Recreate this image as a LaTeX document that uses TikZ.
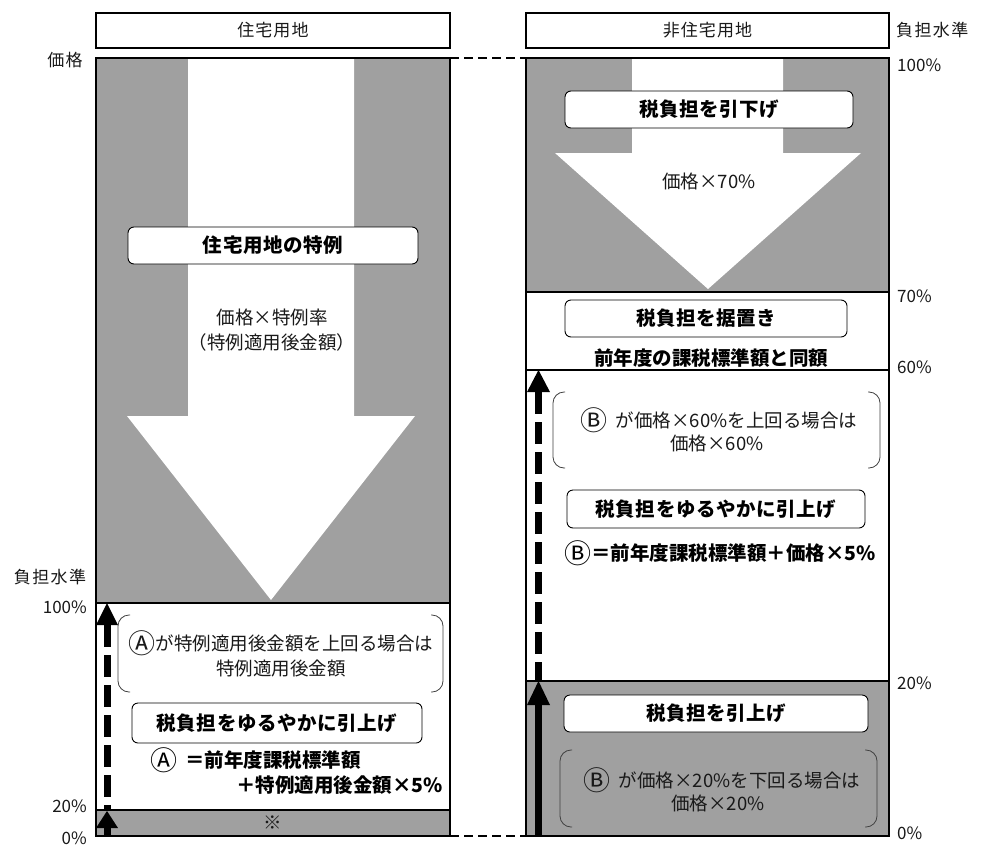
\documentclass[tikz,border=0pt]{standalone}
\usepackage{fontspec}
\setmainfont{Noto Sans CJK JP}
\newcommand\cA{\raisebox{-2.5pt}{\fontsize{27}{20}\selectfont\mdseries Ⓐ}}
\newcommand\cB{\raisebox{-2.5pt}{\fontsize{27}{20}\selectfont\mdseries Ⓑ}}
\definecolor{fillgray}{RGB}{160,160,160}
\definecolor{txtgray}{RGB}{25,25,25}
\begin{document}
\begin{tikzpicture}[x=1pt,y=-1pt,
  hdrbox/.style={draw, line width=1.5pt, fill=white, inner sep=0pt, text=txtgray, font=\fontsize{17}{18}\selectfont\addfontfeature{LetterSpace=6}},
  lblbox/.style={draw, line width=0.9pt, fill=white, rounded corners=6pt, inner sep=0pt, font=\bfseries\fontsize{19.5}{22}\selectfont\addfontfeature{LetterSpace=3}},
  thin/.style={inner sep=0pt, text=txtgray, font=\fontsize{18.5}{20}\selectfont},
  boldtxt/.style={inner sep=0pt, font=\bfseries\fontsize{19.5}{22}\selectfont},
  axis/.style={inner sep=0pt, text=txtgray, font=\fontsize{17}{18}\selectfont},
  axisj/.style={inner sep=0pt, text=txtgray, font=\fontsize{17}{18}\selectfont\addfontfeature{LetterSpace=8}},
  brk/.style={draw=black!75, line width=0.8pt, rounded corners=11pt},
  frame/.style={draw, line width=2.5pt},
  sep/.style={draw, line width=2.5pt},
  conn/.style={draw, line width=2pt, dash pattern=on 9pt off 5pt},
  shaft/.style={draw, line width=7pt},
  dshaft/.style={draw, line width=7pt, dash pattern=on 22pt off 8pt},
]
\useasboundingbox (0,0) rectangle (990,846);

% ---------------- backgrounds ----------------
% left column
\fill[fillgray] (96,58) rectangle (450,603);
\fill[white] (96,603) rectangle (450,810);
\fill[fillgray] (96,810) rectangle (450,836);
\fill[white] (188,56) -- (354,56) -- (354,416) -- (415,416) -- (271,600) -- (127,416) -- (188,416) -- cycle;
% right column
\fill[fillgray] (526,58) rectangle (889,292);
\fill[white] (526,292) rectangle (889,681);
\fill[fillgray] (526,681) rectangle (889,836);
\fill[white] (632,56) -- (783,56) -- (783,153) -- (861,153) -- (708,289) -- (555,153) -- (632,153) -- cycle;

% separators
\draw[sep] (96,603) -- (450,603);
\draw[sep] (96,810) -- (450,810);
\draw[sep] (526,292) -- (889,292);
\draw[line width=1.5pt] (526,370) -- (889,370);
\draw[sep] (526,681) -- (889,681);

% frames
\node[draw=none, inner sep=0pt, minimum width=354pt, minimum height=778pt] (colL) at (273,447) {};
\node[draw=none, inner sep=0pt, minimum width=363pt, minimum height=778pt] (colR) at (707.5,447) {};
\draw[frame] (colL.north west) rectangle (colL.south east);
\draw[frame] (colR.north west) rectangle (colR.south east);
\draw[conn] (colL.north east) -- (colR.north west);
\draw[conn] (colL.south east) -- (colR.south west);

% headers
\node[hdrbox, minimum width=354pt, minimum height=35pt] (hL) at (273,30.5) {住宅用地};
\node[hdrbox, minimum width=363pt, minimum height=35pt] (hR) at (707.5,30.5) {非住宅用地};

% ---------------- left column content ----------------
\node[lblbox, minimum width=290pt, minimum height=37pt] (l1) at (273,245.5) {住宅用地の特例};
\node[thin] (l1a) at (272,317) {価格×特例率};
\node[thin] (l1b) at (272,342) {（特例適用後金額）};

\draw[brk] (130,615) -- (118,615) -- (118,692) -- (130,692);
\draw[brk] (431,615) -- (443,615) -- (443,692) -- (431,692);
\node[thin] (lb1) at (281,643) {\cA が特例適用後金額を上回る場合は};
\node[thin] (lb2) at (281,668) {特例適用後金額};

\node[lblbox, minimum width=290pt, minimum height=40pt] (l2) at (277,723) {税負担をゆるやかに引上げ};
\node[boldtxt, anchor=west] (lf1) at (150,760) {\cA\hspace{8pt}＝前年度課税標準額};
\node[boldtxt, anchor=east] (lf2) at (443,785) {＋特例適用後金額×5\%};
\node[thin] (kome) at (273,823) {※};

% ---------------- right column content ----------------
\node[lblbox, minimum width=288pt, minimum height=37pt] (r1) at (709,109.5) {税負担を引下げ};
\node[thin] (r1a) at (709,181) {価格×70\%};

\node[lblbox, minimum width=282pt, minimum height=37pt] (r2) at (706,318.5) {税負担を据置き};
\node[boldtxt] (r2a) at (711,358) {前年度の課税標準額と同額};

\draw[brk] (565,392) -- (553,392) -- (553,468) -- (565,468);
\draw[brk] (868,392) -- (880,392) -- (880,468) -- (868,468);
\node[thin] (rb1) at (719,420) {\cB\hspace{8pt}が価格×60\%を上回る場合は};
\node[thin] (rb2) at (717,443) {価格×60\%};

\node[lblbox, minimum width=298pt, minimum height=38pt] (r3) at (716,509) {税負担をゆるやかに引上げ};
\node[boldtxt] (r3a) at (720,553) {\cB＝前年度課税標準額＋価格×5\%};

\node[lblbox, minimum width=304pt, minimum height=37pt] (r4) at (716,713.5) {税負担を引上げ};
\draw[brk] (572,750) -- (560,750) -- (560,827) -- (572,827);
\draw[brk] (865,750) -- (877,750) -- (877,827) -- (865,827);
\node[thin] (rc1) at (722,780) {\cB\hspace{8pt}が価格×20\%を下回る場合は};
\node[thin] (rc2) at (718,803) {価格×20\%};

% ---------------- axis labels ----------------
\node[axisj] (price) at (65,60) {価格};
\node[axisj] (lvlL) at (50,577) {負担水準};
\node[axis, anchor=east] (p100L) at (87,607) {100\%};
\node[axis, anchor=east] (p20L) at (87,806) {20\%};
\node[axis, anchor=east] (p0L) at (87,838) {0\%};

\node[axisj, anchor=west] (lvlR) at (896,30) {負担水準};
\node[axis, anchor=west] (p100R) at (897,65) {100\%};
\node[axis, anchor=west] (p70R) at (897,296) {70\%};
\node[axis, anchor=west] (p60R) at (897,367) {60\%};
\node[axis, anchor=west] (p20R) at (897,683) {20\%};
\node[axis, anchor=west] (p0R) at (897,833) {0\%};

% ---------------- arrows ----------------
% left
\coordinate (la0) at (107,836);
\coordinate (la1b) at (107,828);
\coordinate (la1) at (107,811);
\coordinate (la2b) at (107,625);
\coordinate (la2) at (107,603);
\coordinate (la3) at (107,810);
\draw[shaft] (la0) -- (la1b);
\fill (96,828) -- (la1) -- (118,828) -- cycle;
\draw[dshaft] (la2b) -- (la3);
\fill (96,625) -- (la2) -- (118,625) -- cycle;
% right
\coordinate (ra0) at (538.5,836);
\coordinate (ra1b) at (538.5,705);
\coordinate (ra1) at (538.5,681);
\coordinate (ra2b) at (538.5,392);
\coordinate (ra2) at (538.5,370);
\coordinate (ra3) at (538.5,681);
\draw[shaft] (ra0) -- (ra1b);
\fill (527,705) -- (ra1) -- (550,705) -- cycle;
\draw[dshaft] (ra2b) -- (ra3);
\fill (527,392) -- (ra2) -- (550,392) -- cycle;
\end{tikzpicture}
\end{document}
